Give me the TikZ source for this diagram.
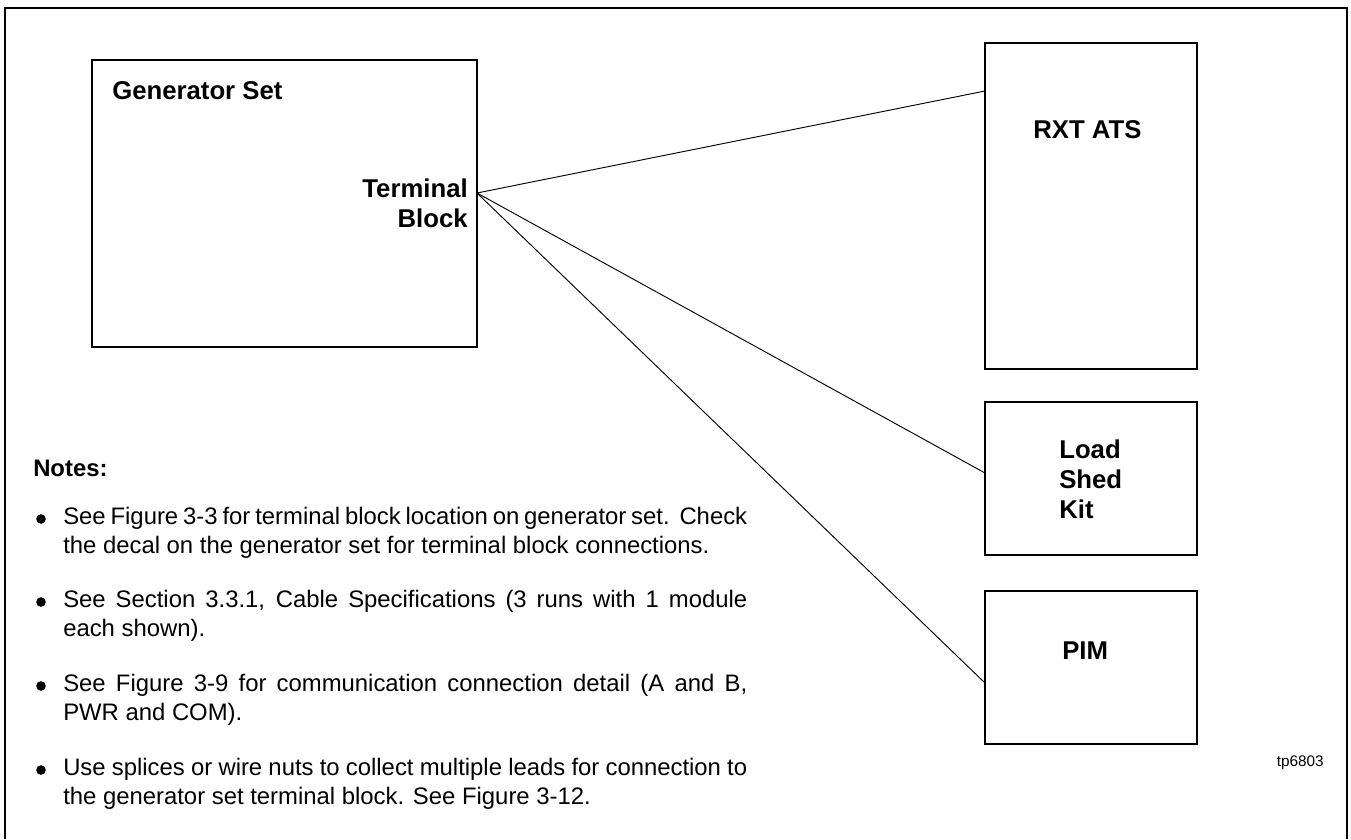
\documentclass[tikz,border=0pt]{standalone}
\usepackage{fontspec}
\setmainfont{Liberation Sans}
\newcommand\justline[1]{\makebox[513pt][s]{\spaceskip=0.278em plus 1em minus 0.12em\relax #1}}
\begin{document}
\begin{tikzpicture}[x=0.75pt,y=-0.75pt,
  box/.style={draw, line width=0.9pt, rectangle, inner sep=0pt},
  wire/.style={line width=0.7pt},
  lbl/.style={inner sep=0pt, font=\bfseries\fontsize{19.3pt}{22.5pt}\selectfont},
  note/.style={inner sep=0pt, anchor=base west, font=\fontsize{17.9pt}{21.75pt}\selectfont},
  dot/.style={circle, fill, inner sep=0pt, minimum size=7.2pt}]
\useasboundingbox (0,0) rectangle (1351,839);
% frame (open at the bottom)
\draw[line width=1.5pt] (5,839) -- (5,8) -- (1347,8) -- (1347,839);

% boxes
\node[box, minimum width=288.75pt, minimum height=215.25pt] (gen) at (284.5,203.5) {};
\node[box, minimum width=159pt, minimum height=244.5pt] (rxt) at (1091,206) {};
\node[box, minimum width=159pt, minimum height=114.75pt] (lsk) at (1091,478.5) {};
\node[box, minimum width=159pt, minimum height=114.75pt] (pim) at (1091,667.5) {};

% labels
\node[lbl, anchor=base west] (genlbl) at (112,99) {Generator Set};
\node[lbl, anchor=base east] (tblbl) at (468,197) {\begin{tabular}[t]{@{}r@{}}Terminal\\Block\end{tabular}};
\node[lbl, anchor=base west] (rxtlbl) at (1033,138) {RXT ATS};
\node[lbl, anchor=base west] (lsklbl) at (1059,458) {\begin{tabular}[t]{@{}l@{}}Load\\Shed\\Kit\end{tabular}};
\node[lbl, anchor=base west] (pimlbl) at (1062,659) {PIM};
\node[inner sep=0pt, anchor=base east, font=\fontsize{11.5pt}{13pt}\selectfont] (tp) at (1324,766) {tp6803};

% connectors
\coordinate (tb) at (477,193);
\coordinate (rxtin) at (985,91);
\coordinate (lskin) at (985,473);
\coordinate (pimin) at (985,683);
\draw[wire] (tb) -- (rxtin);
\draw[wire] (tb) -- (lskin);
\draw[wire] (tb) -- (pimin);

% notes
\node[inner sep=0pt, anchor=base west, font=\bfseries\fontsize{17.9pt}{21.75pt}\selectfont] (notes) at (33,476) {Notes:};
\node[dot] (b1) at (41,519) {};
\node[dot] (b2) at (41,602) {};
\node[dot] (b3) at (41,686) {};
\node[dot] (b4) at (41,770) {};
\node[note] (n1) at (63,524) {\begin{tabular}[t]{@{}l@{}}\justline{See Figure 3-3 for terminal block location on generator set.\ \ Check}\\the decal on the generator set for terminal block connections.\end{tabular}};
\node[note] (n2) at (63,607) {\begin{tabular}[t]{@{}l@{}}\justline{See Section 3.3.1, Cable Specifications (3 runs with 1 module}\\each shown).\end{tabular}};
\node[note] (n3) at (63,691) {\begin{tabular}[t]{@{}l@{}}\justline{See Figure 3-9 for communication connection detail (A and B,}\\PWR and COM).\end{tabular}};
\node[note] (n4) at (63,775) {\begin{tabular}[t]{@{}l@{}}\justline{Use splices or wire nuts to collect multiple leads for connection to}\\the generator set terminal block. See Figure 3-12.\end{tabular}};
\end{tikzpicture}
\end{document}
